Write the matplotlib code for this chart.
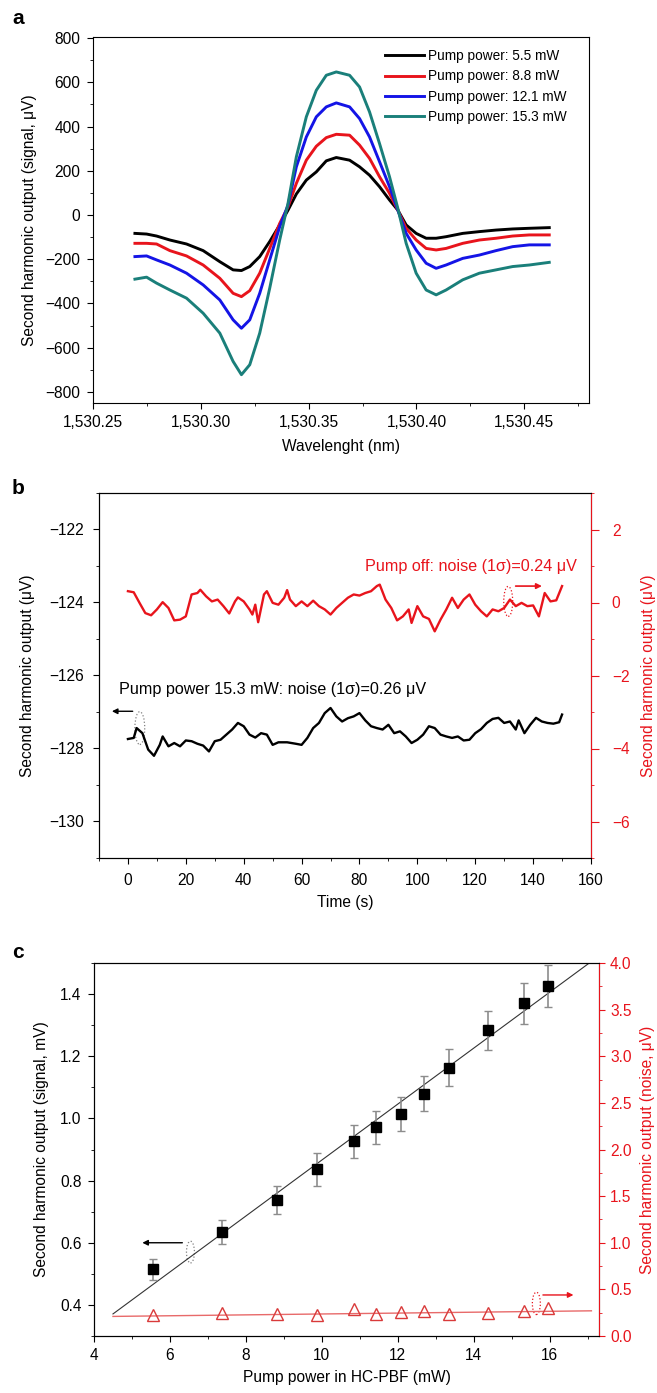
import numpy as np
import matplotlib
matplotlib.use("Agg")
import matplotlib.pyplot as plt
from matplotlib.patches import Ellipse
from matplotlib.ticker import MultipleLocator, FuncFormatter

plt.rcParams['font.family'] = ['Liberation Sans', 'DejaVu Sans']
plt.rcParams['font.size'] = 11

# ---------------- panel a data ----------------
wavelength = [1530.26944, 1530.27485, 1530.27948, 1530.28565, 1530.29337, 1530.30108,
              1530.30880, 1530.31497, 1530.31883, 1530.32269, 1530.32731, 1530.33194,
              1530.33657, 1530.34043, 1530.34429, 1530.34892, 1530.35355, 1530.35818,
              1530.36281, 1530.36898, 1530.37361, 1530.37824, 1530.38287, 1530.38750,
              1530.39136, 1530.39522, 1530.39985, 1530.40448, 1530.40911, 1530.41373,
              1530.42145, 1530.42917, 1530.43688, 1530.44460, 1530.45231, 1530.46157]
sig_5_5 = [-83, -86, -95, -113, -131, -161, -211, -248, -251, -233, -188, -120,
           -45, 22, 95, 158, 195, 245, 260, 248, 218, 180, 128, 68,
           22, -45, -83, -105, -105, -98, -83, -75, -68, -63, -60, -57]
sig_8_8 = [-128, -128, -131, -161, -185, -226, -286, -354, -369, -342, -263, -151,
           -38, 37, 143, 248, 311, 350, 365, 361, 316, 256, 173, 98,
           22, -60, -113, -151, -158, -151, -128, -113, -105, -95, -90, -90]
sig_12_1 = [-188, -185, -203, -226, -263, -316, -384, -474, -512, -474, -354, -203,
            -53, 45, 218, 353, 444, 489, 507, 489, 436, 353, 241, 128,
            22, -83, -158, -218, -241, -226, -196, -181, -161, -143, -135, -135]
sig_15_3 = [-290, -281, -308, -339, -376, -444, -534, -662, -722, -677, -534, -331,
            -113, 53, 263, 444, 564, 632, 647, 632, 579, 466, 323, 173,
            30, -128, -263, -339, -361, -339, -293, -263, -248, -233, -226, -214]
pump_labels = ["Pump power: 5.5 mW", "Pump power: 8.8 mW",
               "Pump power: 12.1 mW", "Pump power: 15.3 mW"]

# ---------------- panel b data ----------------
time_off = [0, 2, 4, 6, 8, 10, 12, 14, 16, 18, 20, 22, 24, 25, 27, 29, 31, 33, 35, 37,
            38, 40, 42, 43, 44, 45, 47, 48, 50, 52, 54, 55, 56, 58, 60, 62, 64, 66, 68,
            70, 72, 74, 76, 78, 80, 82, 84, 86, 87, 89, 91, 93, 95, 97, 98, 100, 102,
            104, 106, 108, 110, 112, 114, 116, 118, 120, 122, 124, 126, 128, 130, 132,
            134, 136, 138, 140, 142, 144, 146, 148, 150]
noise_off = [0.31, 0.28, -0.01, -0.29, -0.35, -0.19, 0.01, -0.15, -0.49, -0.47, -0.38,
             0.22, 0.26, 0.35, 0.17, 0.03, 0.08, -0.10, -0.30, 0.03, 0.14, 0.03, -0.19,
             -0.33, -0.06, -0.54, 0.22, 0.31, -0.01, -0.06, 0.13, 0.34, 0.08, -0.10,
             0.03, -0.10, 0.05, -0.10, -0.19, -0.33, -0.15, -0.01, 0.13, 0.22, 0.19,
             0.26, 0.31, 0.45, 0.49, 0.08, -0.15, -0.49, -0.38, -0.19, -0.56, -0.10,
             -0.38, -0.45, -0.79, -0.47, -0.19, 0.13, -0.15, 0.08, 0.22, -0.06, -0.24,
             -0.38, -0.19, -0.24, -0.15, 0.08, -0.10, -0.01, -0.10, -0.08, -0.38, 0.26,
             0.03, 0.06, 0.45]
time_on = [0, 2, 3, 5, 7, 9, 11, 12, 14, 16, 18, 20, 22, 24, 26, 28, 30, 32, 34, 36,
           38, 40, 42, 44, 46, 48, 50, 52, 55, 58, 60, 62, 64, 66, 68, 70, 72, 74, 76,
           78, 80, 82, 84, 86, 88, 90, 92, 94, 96, 98, 100, 102, 104, 106, 108, 110,
           112, 114, 116, 118, 120, 122, 124, 126, 128, 130, 132, 134, 135, 137, 139,
           141, 143, 145, 147, 149, 150]
signal_on = [-127.74, -127.71, -127.44, -127.58, -128.03, -128.20, -127.90, -127.67,
             -127.94, -127.85, -127.94, -127.78, -127.80, -127.87, -127.92, -128.08,
             -127.80, -127.76, -127.62, -127.48, -127.30, -127.39, -127.62, -127.70,
             -127.58, -127.62, -127.90, -127.83, -127.83, -127.87, -127.90, -127.71,
             -127.44, -127.30, -127.03, -126.89, -127.12, -127.26, -127.17, -127.12,
             -127.03, -127.23, -127.39, -127.44, -127.48, -127.35, -127.58, -127.53,
             -127.67, -127.85, -127.76, -127.62, -127.39, -127.44, -127.62, -127.67,
             -127.71, -127.67, -127.78, -127.76, -127.58, -127.47, -127.30, -127.19,
             -127.16, -127.30, -127.26, -127.48, -127.23, -127.58, -127.35, -127.16,
             -127.26, -127.30, -127.32, -127.28, -127.07]

# ---------------- panel c data ----------------
pump_power = [5.55, 7.37, 8.81, 9.86, 10.84, 11.43, 12.08, 12.69, 13.36, 14.38, 15.32, 15.96]
sh_signal = [0.514, 0.634, 0.738, 0.836, 0.926, 0.971, 1.014, 1.080, 1.163, 1.283, 1.370, 1.426]
sh_signal_err = [0.034, 0.038, 0.044, 0.053, 0.052, 0.053, 0.054, 0.055, 0.059, 0.063, 0.065, 0.068]
sh_noise = [0.23, 0.25, 0.24, 0.22, 0.29, 0.24, 0.26, 0.27, 0.24, 0.25, 0.27, 0.30]
fit_x = [4.5, 17.05]
fit_slope, fit_intercept = 0.09, -0.034
noise_fit_x = [4.5, 17.1]
noise_fit_y = [0.21, 0.27]

RED = "#e8141c"
FS = 11.2
W, H = 657, 1393
fig = plt.figure(figsize=(W / 100, H / 100), dpi=100)


def px_axes(left, top, right, bottom):
    """axes from pixel box of the reference"""
    return fig.add_axes([left / W, 1 - bottom / H, (right - left) / W, (bottom - top) / H])


# ================= panel a =================
ax_a = px_axes(93, 37, 589, 403)
colors_a = ["black", "#e8141c", "#1414e6", "#1a7f7a"]
for sig, col, lab in zip([sig_5_5, sig_8_8, sig_12_1, sig_15_3], colors_a, pump_labels):
    ax_a.plot(wavelength, sig, color=col, lw=2.1, label=lab)
ax_a.set_xlim(1530.25, 1530.48)
ax_a.set_ylim(-850, 805)
ax_a.xaxis.set_major_locator(MultipleLocator(0.05))
ax_a.xaxis.set_minor_locator(MultipleLocator(0.025))
ax_a.yaxis.set_major_locator(MultipleLocator(200))
ax_a.yaxis.set_minor_locator(MultipleLocator(100))
ax_a.xaxis.set_major_formatter(FuncFormatter(lambda v, p: "{:,.2f}".format(v)))
ax_a.tick_params(which='both', direction='out', top=False, right=False, labelsize=FS)
ax_a.tick_params(which='major', length=4, pad=5)
ax_a.set_xlabel("Wavelenght (nm)", fontsize=FS, labelpad=6)
ax_a.set_ylabel("Second harmonic output (signal, \u03bcV)", fontsize=FS, labelpad=6)
ax_a.legend(loc='upper right', bbox_to_anchor=(0.98, 1.0), frameon=False, fontsize=9.8,
            handlelength=2.9, labelspacing=0.45, handletextpad=0.3)

# ================= panel b =================
ax_b = px_axes(99, 493, 591, 858)
ax_b2 = ax_b.twinx()
ax_b.plot(time_on, signal_on, color="black", lw=1.7)
ax_b2.plot(time_off, noise_off, color=RED, lw=1.7)
ax_b.set_xlim(-10, 160)
ax_b.set_ylim(-131, -121)
ax_b2.set_ylim(-7, 3)
ax_b.xaxis.set_major_locator(MultipleLocator(20))
ax_b.xaxis.set_minor_locator(MultipleLocator(10))
ax_b.yaxis.set_major_locator(MultipleLocator(2))
ax_b.yaxis.set_minor_locator(MultipleLocator(1))
ax_b2.yaxis.set_major_locator(MultipleLocator(2))
ax_b2.yaxis.set_minor_locator(MultipleLocator(1))
ax_b.tick_params(which='both', direction='out', labelsize=FS)
ax_b.tick_params(which='major', length=4, pad=7)
ax_b2.tick_params(which='both', direction='out', colors=RED, labelsize=FS)
ax_b2.tick_params(which='major', length=6, pad=9)
ax_b2.spines['right'].set_color(RED)
ax_b.set_xlabel("Time (s)", fontsize=FS, labelpad=5)
ax_b.set_ylabel("Second harmonic output (\u03bcV)", fontsize=FS, labelpad=10)
ax_b2.set_ylabel("Second harmonic output (\u03bcV)", fontsize=FS, color=RED, labelpad=8)

ax_b2.text(155, 0.99, "Pump off: noise (1\u03c3)=0.24 \u03bcV", color=RED, fontsize=11.6,
           ha='right', va='center')
ax_b.text(-3.2, -126.39, "Pump power 15.3 mW: noise (1\u03c3)=0.26 \u03bcV", color="black",
          fontsize=11.6, ha='left', va='center')
ax_b2.annotate("", xy=(144, 0.45), xytext=(133, 0.45),
               arrowprops=dict(arrowstyle='-|>', color=RED, lw=1.2, mutation_scale=8))
ax_b.annotate("", xy=(-6.5, -126.98), xytext=(2.6, -126.98),
              arrowprops=dict(arrowstyle='-|>', color="black", lw=1.0, mutation_scale=8))
ax_b2.add_patch(Ellipse((131.4, 0.03), 3.1, 0.82, fill=False, ls=':', lw=0.9, ec=RED))
ax_b.add_patch(Ellipse((4.1, -127.44), 3.4, 0.9, fill=False, ls=':', lw=0.9, ec="gray"))

# ================= panel c =================
ax_c = px_axes(94, 963, 599, 1336)
ax_c2 = ax_c.twinx()
fit_y = [fit_slope * x + fit_intercept for x in fit_x]
ax_c.plot(fit_x, fit_y, color="#333333", lw=0.8)
ax_c.errorbar(pump_power, sh_signal, yerr=sh_signal_err, fmt='s', color="black", ms=7,
              ecolor="#8c8c8c", elinewidth=1.2, capsize=3, capthick=1.0, zorder=3)
ax_c2.plot(noise_fit_x, noise_fit_y, color="#e86a6a", lw=1.0)
ax_c2.plot(pump_power, sh_noise, ls='none', marker='^', ms=9, mfc='none', mec="#d93a3a", mew=1.0)
ax_c.set_xlim(4, 17.3)
ax_c.set_ylim(0.3, 1.5)
ax_c2.set_ylim(0, 4)
ax_c.xaxis.set_major_locator(MultipleLocator(2))
ax_c.xaxis.set_minor_locator(MultipleLocator(1))
ax_c.yaxis.set_major_locator(MultipleLocator(0.2))
ax_c.yaxis.set_minor_locator(MultipleLocator(0.1))
ax_c.yaxis.set_major_formatter(FuncFormatter(lambda v, p: "{:.1f}".format(v)))
ax_c2.yaxis.set_major_locator(MultipleLocator(0.5))
ax_c2.yaxis.set_minor_locator(MultipleLocator(0.25))
ax_c2.yaxis.set_major_formatter(FuncFormatter(lambda v, p: "{:.1f}".format(v)))
ax_c.tick_params(which='both', direction='out', labelsize=FS)
ax_c.tick_params(which='major', length=4, pad=5)
ax_c2.tick_params(which='both', direction='out', colors=RED, labelsize=FS)
ax_c2.tick_params(which='major', length=4, pad=4)
ax_c2.spines['right'].set_color(RED)
ax_c.set_xlabel("Pump power in HC-PBF (mW)", fontsize=FS, labelpad=5)
ax_c.set_ylabel("Second harmonic output (signal, mV)", fontsize=FS, labelpad=8)
ax_c2.set_ylabel("Second harmonic output (noise, \u03bcV)", fontsize=FS, color=RED, labelpad=6)

ax_c.annotate("", xy=(5.2, 0.6), xytext=(6.4, 0.6),
              arrowprops=dict(arrowstyle='-|>', color="black", lw=1.0, mutation_scale=8))
ax_c.add_patch(Ellipse((6.54, 0.57), 0.21, 0.07, fill=False, ls=':', lw=0.9, ec="gray"))
ax_c2.annotate("", xy=(16.7, 0.44), xytext=(15.75, 0.44),
               arrowprops=dict(arrowstyle='-|>', color=RED, lw=1.0, mutation_scale=8))
ax_c2.add_patch(Ellipse((15.65, 0.35), 0.21, 0.24, fill=False, ls=':', lw=0.9, ec=RED))

# panel letters
for letter, y in [("a", 18), ("b", 488), ("c", 952)]:
    fig.text(18 / W, 1 - y / H, letter, fontsize=15, fontweight='bold', ha='center', va='center')

fig.savefig("out.png", dpi=100)
